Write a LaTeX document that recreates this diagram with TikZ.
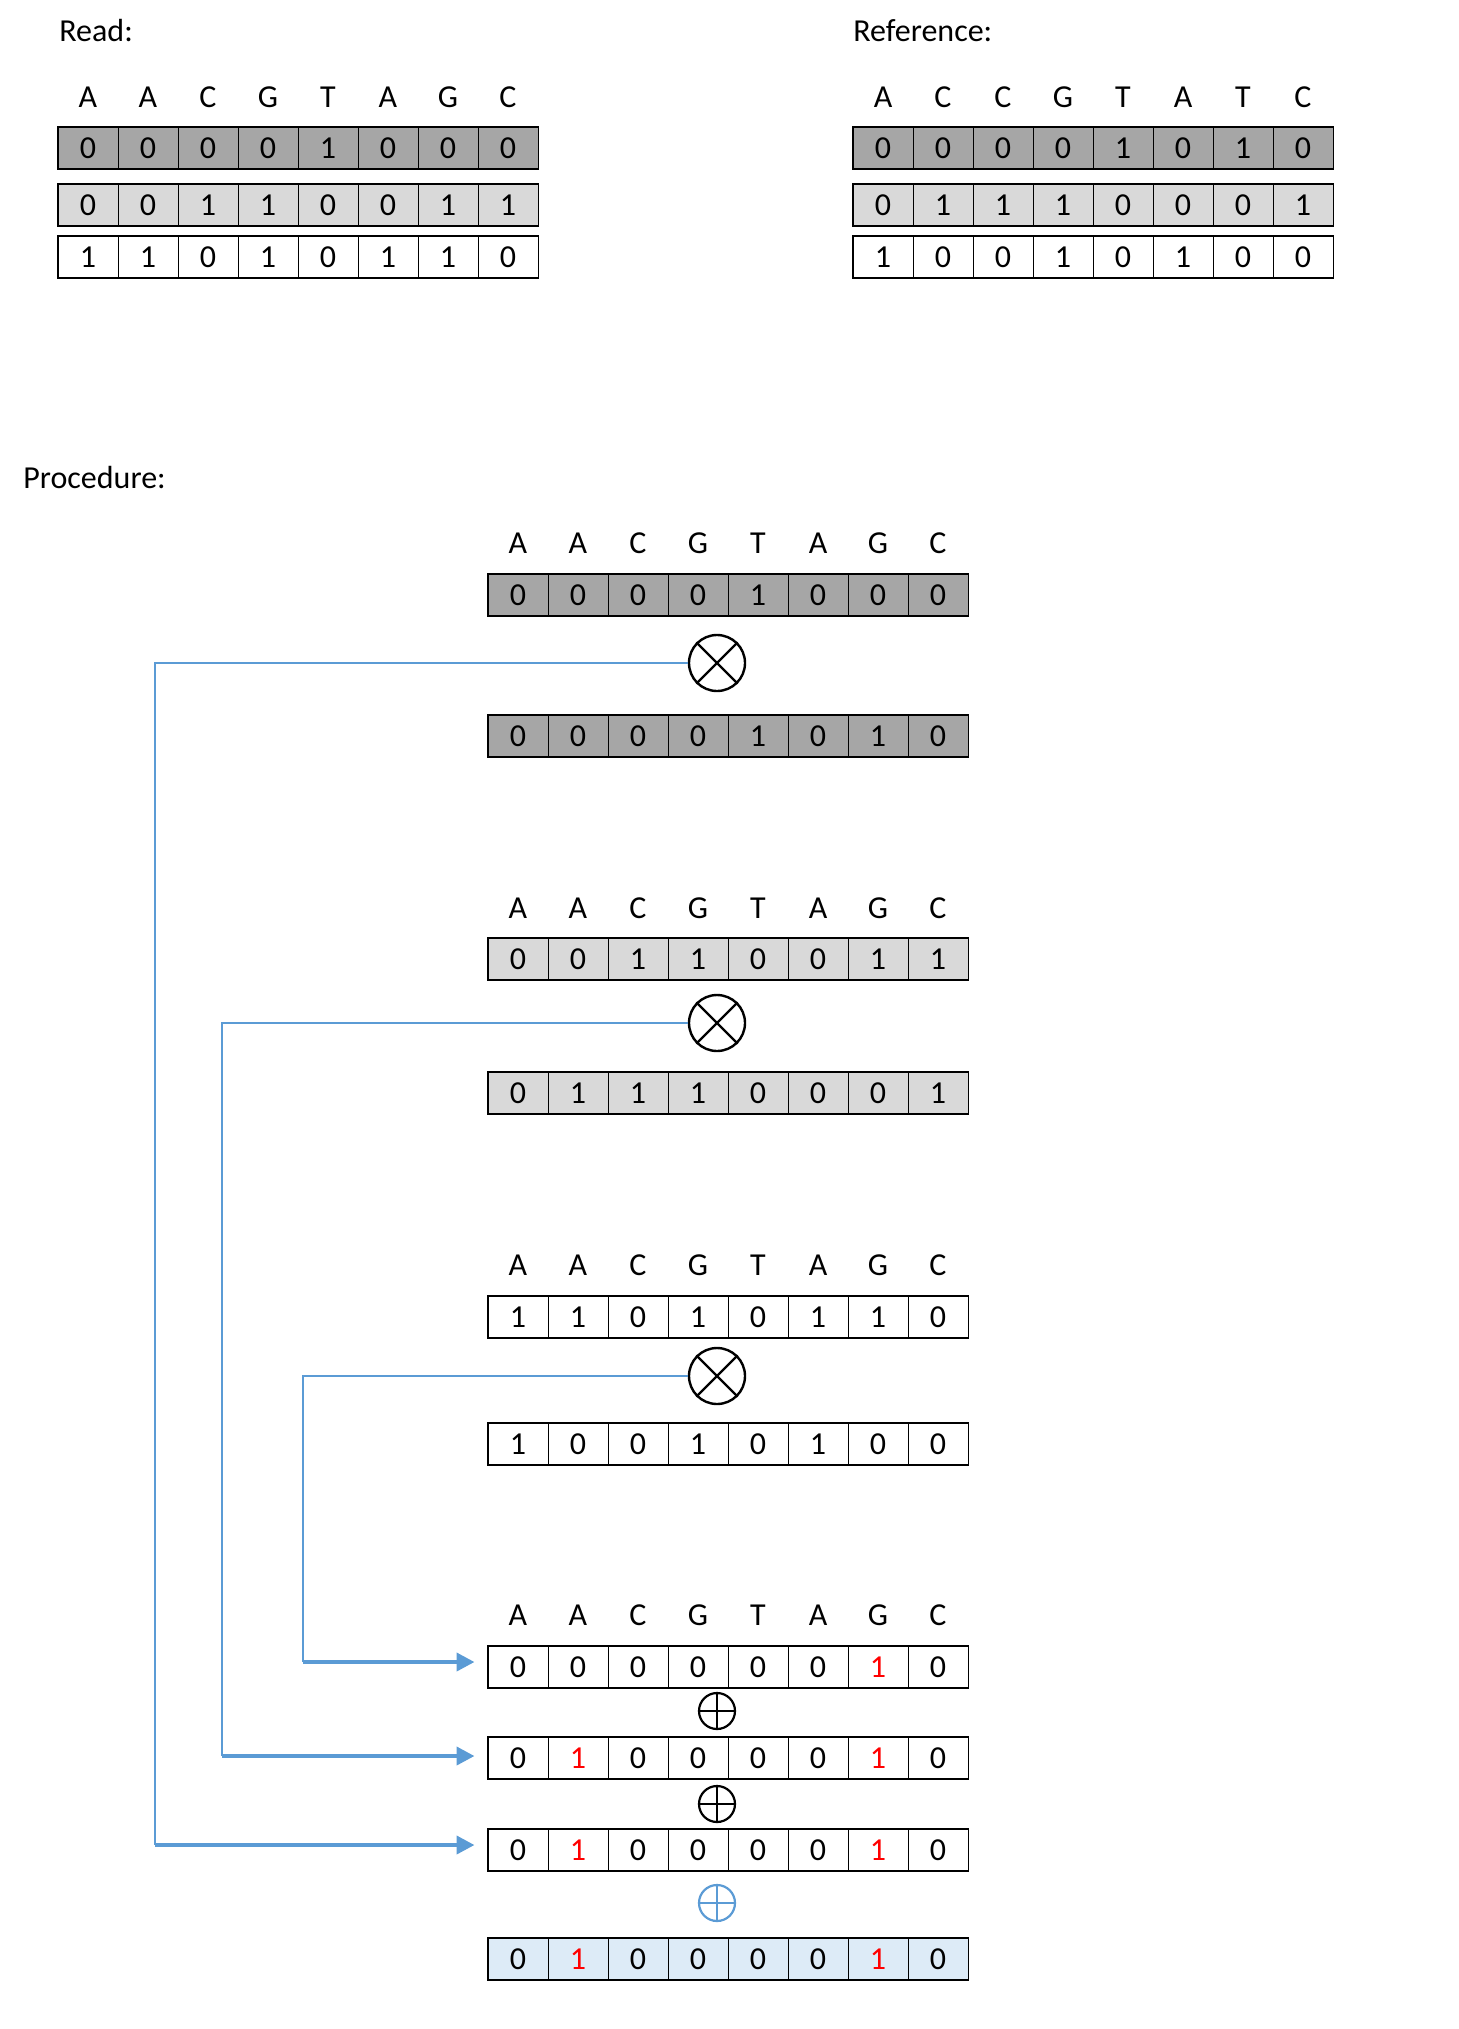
\documentclass[tikz,border=0pt]{standalone}
\usepackage{fontspec}
\setmainfont{Carlito}
\usetikzlibrary{arrows.meta}
\definecolor{dgray}{HTML}{A6A6A6}
\definecolor{lgray}{HTML}{D9D9D9}
\definecolor{lblue}{HTML}{DDEBF7}
\definecolor{lineblue}{HTML}{5B9BD5}
\definecolor{bitred}{HTML}{FF0000}
\newcommand\rone{\textcolor{bitred}{1}}
% name, x0, yc, fill, values
\newcommand\bitrow[5]{%
  \foreach \v [count=\i] in {#5} {
    \node[cell, fill=#4] (#1-\i) at ({#2+(\i-0.5)*60}, #3) {\v};
  }
  \draw[line width=0.8pt] (#1-1.north west) rectangle (#1-8.south east);
}
% name, x0, yc, letters
\newcommand\baserow[4]{%
  \foreach \l [count=\i] in {#4} {
    \node[letter] (#1-\i) at ({#2+(\i-0.5)*60}, #3) {\l};
  }
}
\tikzset{
  txt/.style={font=\fontsize{16}{19}\selectfont, inner sep=0pt},
  cell/.style={txt, draw, line width=0.5pt, minimum width=30pt, minimum height=20.5pt},
  letter/.style={txt},
  otimes/.style={circle, draw, line width=1.2pt, minimum size=28pt, inner sep=0pt},
  oplus/.style={circle, draw, line width=1.1pt, minimum size=18pt, inner sep=0pt},
  thinblue/.style={draw=lineblue, line width=0.6pt},
  thickblue/.style={draw=lineblue, line width=2pt, -{Triangle[length=9pt,width=9pt]}},
}
\begin{document}
\begin{tikzpicture}[x=0.5pt, y=-0.5pt]
\useasboundingbox (0,0) rectangle (1459,2029);

% ---------- top: Read ----------
\node[txt, anchor=west] (readlbl) at (59,31) {Read:};
\baserow{rl}{58}{97}{A,A,C,G,T,A,G,C}
\bitrow{ra}{58}{148}{dgray}{0,0,0,0,1,0,0,0}
\bitrow{rb}{58}{205}{lgray}{0,0,1,1,0,0,1,1}
\bitrow{rc}{58}{257}{white}{1,1,0,1,0,1,1,0}

% ---------- top: Reference ----------
\node[txt, anchor=west] (reflbl) at (853,31) {Reference:};
\baserow{fl}{853}{97}{A,C,C,G,T,A,T,C}
\bitrow{fa}{853}{148}{dgray}{0,0,0,0,1,0,1,0}
\bitrow{fb}{853}{205}{lgray}{0,1,1,1,0,0,0,1}
\bitrow{fc}{853}{257}{white}{1,0,0,1,0,1,0,0}

% ---------- Procedure ----------
\node[txt, anchor=west] (proclbl) at (23,478) {Procedure:};

% block 1
\baserow{p1l}{488}{543}{A,A,C,G,T,A,G,C}
\bitrow{p1a}{488}{595}{dgray}{0,0,0,0,1,0,0,0}
\node[otimes] (ox1) at (717,663) {};
\draw[line width=1.2pt] (ox1.north east) -- (ox1.south west) (ox1.north west) -- (ox1.south east);
\bitrow{p1b}{488}{736}{dgray}{0,0,0,0,1,0,1,0}

% block 2
\baserow{p2l}{488}{908}{A,A,C,G,T,A,G,C}
\bitrow{p2a}{488}{959}{lgray}{0,0,1,1,0,0,1,1}
\node[otimes] (ox2) at (717,1023) {};
\draw[line width=1.2pt] (ox2.north east) -- (ox2.south west) (ox2.north west) -- (ox2.south east);
\bitrow{p2b}{488}{1093}{lgray}{0,1,1,1,0,0,0,1}

% block 3
\baserow{p3l}{488}{1265}{A,A,C,G,T,A,G,C}
\bitrow{p3a}{488}{1317}{white}{1,1,0,1,0,1,1,0}
\node[otimes] (ox3) at (717,1376) {};
\draw[line width=1.2pt] (ox3.north east) -- (ox3.south west) (ox3.north west) -- (ox3.south east);
\bitrow{p3b}{488}{1444}{white}{1,0,0,1,0,1,0,0}

% block 4
\baserow{p4l}{488}{1615}{A,A,C,G,T,A,G,C}
\bitrow{s1}{488}{1667}{white}{0,0,0,0,0,0,\rone,0}
\node[oplus] (op1) at (717,1711) {};
\draw[line width=1.1pt] (op1.north) -- (op1.south) (op1.west) -- (op1.east);
\bitrow{s2}{488}{1758}{white}{0,\rone,0,0,0,0,\rone,0}
\node[oplus] (op2) at (717,1804) {};
\draw[line width=1.1pt] (op2.north) -- (op2.south) (op2.west) -- (op2.east);
\bitrow{s3}{488}{1850}{white}{0,\rone,0,0,0,0,\rone,0}
\node[oplus, draw=lineblue] (op3) at (717,1903) {};
\draw[lineblue, line width=1.1pt] (op3.north) -- (op3.south) (op3.west) -- (op3.east);
\bitrow{s4}{488}{1959}{lblue}{0,\rone,0,0,0,0,\rone,0}

% ---------- connectors ----------
\coordinate (k1) at (155,1845);
\coordinate (k2) at (222,1756);
\coordinate (k3) at (303,1662);
\draw[thinblue] (ox1.west) -| (k1);
\draw[thinblue] (ox2.west) -| (k2);
\draw[thinblue] (ox3.west) -| (k3);
\draw[thickblue] (k1) -- ([xshift=-6.5pt]k1 -| s3-1.west);
\draw[thickblue] (k2) -- ([xshift=-6.5pt]k2 -| s2-1.west);
\draw[thickblue] (k3) -- ([xshift=-6.5pt]k3 -| s1-1.west);
\end{tikzpicture}
\end{document}
